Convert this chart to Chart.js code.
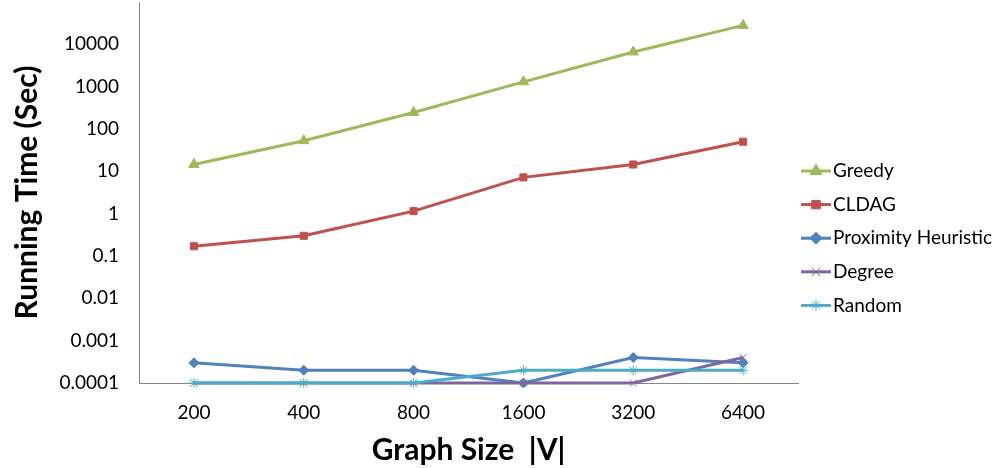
<!DOCTYPE html>
<html>
<head>
<meta charset="utf-8">
<script src="https://cdn.jsdelivr.net/npm/chart.js@4/dist/chart.umd.min.js"></script>
<style>
  html, body { margin: 0; padding: 0; background: #fff; overflow: hidden; }
  #wrap { width: 995px; height: 473px; position: relative; margin-top: -5px; }
</style>
</head>
<body>
<div id="wrap"><canvas id="chart"></canvas></div>
<script>
const sizes = ['200', '400', '800', '1600', '3200', '6400'];
const greedy = [14.5, 53, 245, 1300, 6600, 28000];
const cldag = [0.17, 0.30, 1.15, 7.2, 14.5, 50];
const proximity = [0.0003, 0.0002, 0.0002, 0.0001, 0.0004, 0.0003];
const degree = [0.0001, 0.0001, 0.0001, 0.0001, 0.0001, 0.0004];
const random = [0.0001, 0.0001, 0.0001, 0.0002, 0.0002, 0.0002];
const yTicks = [0.0001, 0.001, 0.01, 0.1, 1, 10, 100, 1000, 10000];

const FONT = 'Lato, "Open Sans", sans-serif';

function series(label, data, color, style, order) {
    return {
        label: label,
        data: data,
        borderColor: color,
        backgroundColor: color,
        borderWidth: 3,
        pointStyle: style,
        pointRadius: style === 'triangle' ? 6 : 5,
        pointBorderWidth: 1,
        pointBorderColor: color,
        pointBackgroundColor: color,
        tension: 0,
        clip: false,
        order: order
    };
}

// legend drawn by hand: line with the marker in the middle
const sideLegend = {
    id: 'sideLegend',
    afterDraw(chart) {
        const ctx = chart.ctx;
        const area = chart.chartArea;
        const x0 = area.right + 3;
        const y0 = area.top + 169;
        const step = 33.6;
        ctx.save();
        chart.data.datasets.forEach((ds, k) => {
            const y = y0 + k * step;
            ctx.strokeStyle = ds.borderColor;
            ctx.lineWidth = 3;
            ctx.beginPath();
            ctx.moveTo(x0, y);
            ctx.lineTo(x0 + 30, y);
            ctx.stroke();
            ctx.lineWidth = 1;
            ctx.fillStyle = ds.backgroundColor;
            Chart.helpers.drawPoint(ctx, {
                pointStyle: ds.pointStyle,
                radius: ds.pointRadius + 1,
                borderWidth: 1,
                rotation: 0
            }, x0 + 15, y);
            ctx.fillStyle = '#000';
            ctx.font = '19px ' + FONT;
            ctx.textBaseline = 'middle';
            ctx.textAlign = 'left';
            ctx.fillText(ds.label, x0 + 32, y);
        });
        ctx.restore();
    }
};

const ctx = document.getElementById('chart');

new Chart(ctx, {
    type: 'line',
    data: {
        labels: sizes,
        datasets: [
            series('Greedy', greedy, '#9BBB59', 'triangle', 4),
            series('CLDAG', cldag, '#C0504D', 'rect', 3),
            series('Proximity Heuristic', proximity, '#4F81BD', 'rectRot', 2),
            series('Degree', degree, '#8064A2', 'crossRot', 1),
            series('Random', random, '#4BACC6', 'star', 0)
        ]
    },
    options: {
        responsive: true,
        maintainAspectRatio: false,
        animation: false,
        layout: { padding: { top: 0, right: 197, left: 0, bottom: 0 } },
        plugins: {
            legend: { display: false },
            tooltip: { enabled: false }
        },
        scales: {
            x: {
                offset: true,
                grid: { display: false, drawTicks: false },
                border: { display: true, color: '#868686', width: 1 },
                ticks: {
                    color: '#000',
                    font: { family: FONT, size: 19 },
                    padding: 18
                },
                title: {
                    display: true,
                    text: 'Graph Size  |V|',
                    color: '#000',
                    font: { family: FONT, size: 30, weight: 'bold' },
                    padding: { top: 2, bottom: 0 }
                },
                afterFit(scale) { scale.height = 85; }
            },
            y: {
                type: 'logarithmic',
                min: 0.0001,
                max: 100000,
                grid: { display: false, drawTicks: false },
                border: { display: true, color: '#868686', width: 1 },
                afterBuildTicks(scale) {
                    scale.ticks = yTicks.map(v => ({ value: v }));
                },
                ticks: {
                    color: '#000',
                    font: { family: FONT, size: 19 },
                    padding: 20,
                    callback: v => String(v)
                },
                title: {
                    display: true,
                    text: 'Running Time (Sec)',
                    color: '#000',
                    font: { family: FONT, size: 30, weight: 'bold' },
                    padding: { top: 9, bottom: 6 }
                },
                afterFit(scale) {
                    scale.width = 139;
                    scale.paddingTop = 0;
                    scale.paddingBottom = 0;
                }
            }
        }
    },
    plugins: [sideLegend]
});
</script>
</body>
</html>
